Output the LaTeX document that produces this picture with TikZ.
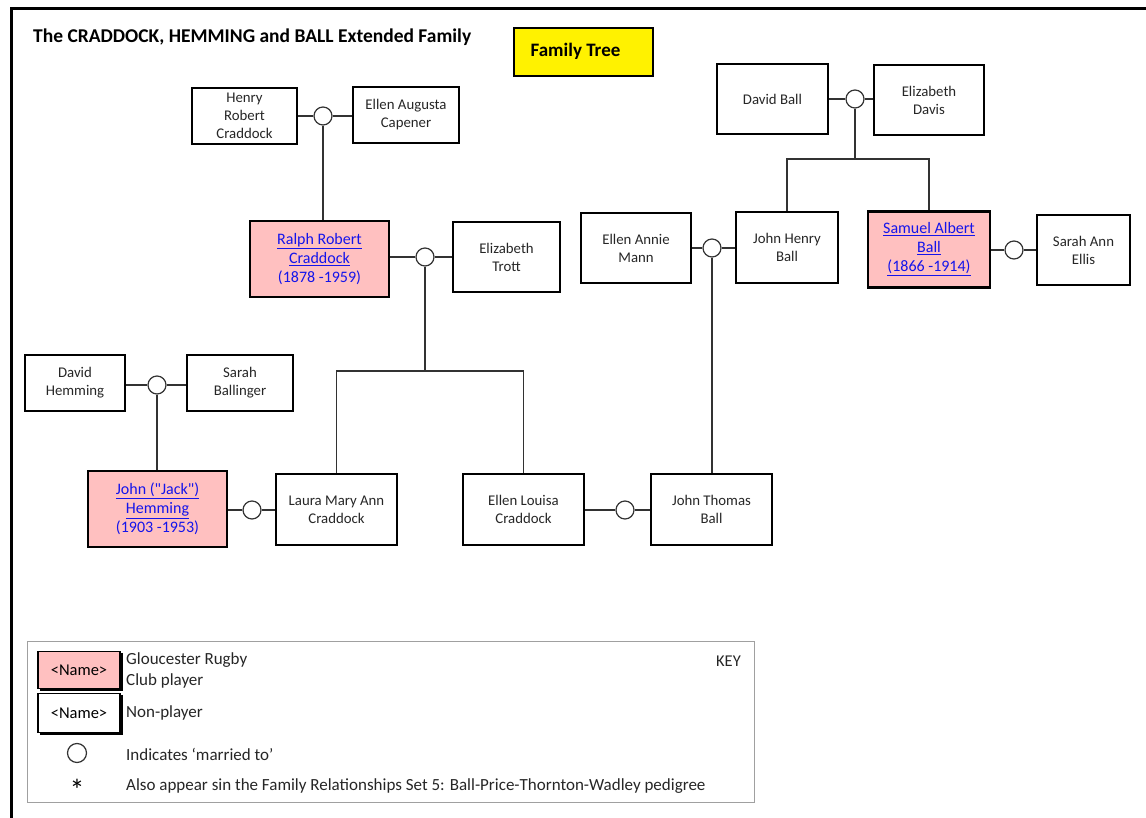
\documentclass[tikz,border=0pt]{standalone}
\usepackage{fontspec}
\setmainfont{Carlito}
\definecolor{pinkc}{RGB}{255,192,192}
\definecolor{linec}{RGB}{50,50,50}
\definecolor{linkc}{RGB}{20,20,235}
\definecolor{keyc}{RGB}{160,160,160}
\newcommand{\lk}[1]{\textcolor{linkc}{\underline{#1}}}
\newcommand{\lkp}[1]{\textcolor{linkc}{#1}}
\tikzset{
  person/.style={draw=black, line width=1.3, align=center, inner sep=0,
    font=\fontsize{14.8}{18}\selectfont, text=black!85},
  player/.style={person, fill=pinkc, line width=2.2, font=\fontsize{16}{19}\selectfont},
  marr/.style={circle, draw=black!80, line width=1.2, fill=white, minimum size=18, inner sep=0},
  conn/.style={draw=linec, line width=1.2},
  keytext/.style={anchor=west, inner sep=0, font=\fontsize{17}{21}\selectfont, text=black!85, align=left},
}
\begin{document}
\begin{tikzpicture}[x=1pt,y=-1pt]
\useasboundingbox (0,0) rectangle (1146,818);
\draw[line width=3] (11,818) -- (11,8.5) -- (1146,8.5);

\node[anchor=west, inner sep=0, font=\fontsize{19.5}{22}\selectfont\bfseries] (title) at (33,37) {The CRADDOCK, HEMMING and BALL Extended Family};
\node[draw=black, line width=2, fill=yellow, minimum width=139, minimum height=48, inner sep=0] (ft) at (583.5,52) {};
\node[inner sep=0, font=\fontsize{19}{22}\selectfont\bfseries] (fttext) at (575.5,51) {Family Tree};

% people
\node[person, minimum width=105, minimum height=56] (hrc) at (244.5,116) {Henry\\Robert\\Craddock};
\node[person, minimum width=106, minimum height=56] (eac) at (406,115) {Ellen Augusta\\Capener};
\node[marr] (m1) at (323,116) {};
\node[player, minimum width=139, minimum height=76] (rrc) at (319.5,259) {\lk{Ralph Robert}\\\lk{Craddock}\\\lkp{(1878 -1959)}};
\node[person, minimum width=107, minimum height=70] (et) at (506.5,257) {Elizabeth\\Trott};
\node[marr] (m2) at (425,257) {};
\node[person, minimum width=100, minimum height=56] (dh) at (75,383) {David\\Hemming};
\node[person, minimum width=106, minimum height=56] (sb) at (240,383) {Sarah\\Ballinger};
\node[marr] (m3) at (157,385) {};
\node[player, minimum width=139, minimum height=76] (jh) at (157.5,509) {\lk{John (\textquotedbl Jack\textquotedbl)}\\\lk{Hemming}\\\lkp{(1903 -1953)}};
\node[marr] (m4) at (252,510) {};
\node[person, minimum width=121, minimum height=71] (lmac) at (336.5,509.5) {Laura Mary Ann\\Craddock};
\node[person, minimum width=121, minimum height=71] (elc) at (523.5,509.5) {Ellen Louisa\\Craddock};
\node[marr] (m5) at (625,510) {};
\node[person, minimum width=121, minimum height=71] (jtb) at (711.5,509.5) {John Thomas\\Ball};
\node[person, minimum width=110, minimum height=70] (eam) at (636,248) {Ellen Annie\\Mann};
\node[marr] (m6) at (712,248) {};
\node[person, minimum width=102, minimum height=71] (jhb) at (787,247.5) {John Henry\\Ball};
\node[player, minimum width=122, minimum height=76] (sab) at (929,249.5) {\lk{Samuel Albert}\\\lk{Ball}\\\lk{(1866 -1914)}};
\node[marr] (m7) at (1014,250) {};
\node[person, minimum width=93, minimum height=70] (sae) at (1083.5,250) {Sarah Ann\\Ellis};
\node[person, minimum width=111, minimum height=70] (db) at (772.5,99) {David Ball};
\node[person, minimum width=110, minimum height=70] (ed) at (929,100) {Elizabeth\\Davis};
\node[marr] (m8) at (855,99) {};

\coordinate (j1) at (425,371);
\coordinate (j2) at (855,159);

% connectors
\draw[conn] (m1.west) -- (m1.west -| hrc.east);
\draw[conn] (m1.east) -- (m1.east -| eac.west);
\draw[conn] (m1.south) -- (m1.south |- rrc.north);
\draw[conn] (m2.west) -- (m2.west -| rrc.east);
\draw[conn] (m2.east) -- (m2.east -| et.west);
\draw[conn] (m2.south) -- (j1);
\draw[conn] (lmac.north) |- (j1) -| (elc.north);
\draw[conn] (m3.west) -- (m3.west -| dh.east);
\draw[conn] (m3.east) -- (m3.east -| sb.west);
\draw[conn] (m3.south) -- (m3.south |- jh.north);
\draw[conn] (m4.west) -- (m4.west -| jh.east);
\draw[conn] (m4.east) -- (m4.east -| lmac.west);
\draw[conn] (m5.west) -- (m5.west -| elc.east);
\draw[conn] (m5.east) -- (m5.east -| jtb.west);
\draw[conn] (m6.south) -- (m6.south |- jtb.north);
\draw[conn] (m6.west) -- (m6.west -| eam.east);
\draw[conn] (m6.east) -- (m6.east -| jhb.west);
\draw[conn] (m8.west) -- (m8.west -| db.east);
\draw[conn] (m8.east) -- (m8.east -| ed.west);
\draw[conn] (m8.south) -- (j2);
\draw[conn] (jhb.north) |- (j2) -| (sab.north);
\draw[conn] (m7.west) -- (m7.west -| sab.east);
\draw[conn] (m7.east) -- (m7.east -| sae.west);

% key
\node[draw=keyc, line width=1, minimum width=727, minimum height=161, inner sep=0] (keybox) at (390.5,721.5) {};
\fill[black] (40,653) rectangle (123,691);
\node[draw=black, line width=1.2, fill=pinkc, minimum width=82, minimum height=37, inner sep=0, font=\fontsize{16.5}{19}\selectfont] (kp) at (79,670) {<Name>};
\fill[black] (40,695) rectangle (123,735);
\node[draw=black, line width=1.2, fill=white, minimum width=82, minimum height=39, inner sep=0, font=\fontsize{16.5}{19}\selectfont] (kn) at (79,713) {<Name>};
\node[keytext] (kt1) at (126,670.5) {Gloucester Rugby\\Club player};
\node[keytext] (kt2) at (126,713) {Non-player};
\node[circle, draw=black!80, line width=1.2, minimum size=19, inner sep=0] (km) at (77,753) {};
\node[keytext] (kt3) at (126,754) {Indicates ‘married to’};
\node[inner sep=0, font=\fontsize{30}{30}\selectfont] (ks) at (77,790) {*};
\node[keytext] (kt4) at (126,786) {Also appear sin the Family Relationships Set 5: Ball-Price-Thornton-Wadley pedigree};
\node[anchor=east, inner sep=0, font=\fontsize{16.5}{20}\selectfont, text=black!85] (key) at (741,661) {KEY};
\end{tikzpicture}
\end{document}
